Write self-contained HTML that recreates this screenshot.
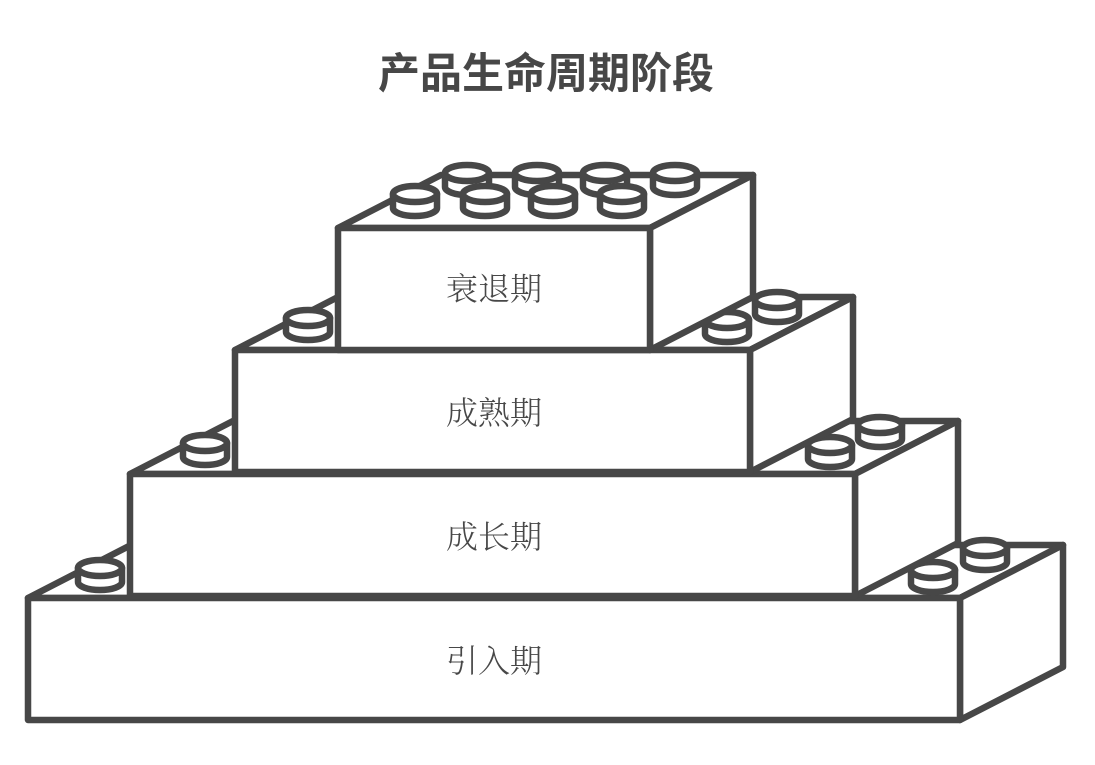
<!DOCTYPE html>
<html><head><meta charset="utf-8"><style>
body{margin:0;background:#fff;}
svg{display:block}
text{font-family:"Liberation Serif","Noto Serif CJK SC",serif;fill:#474747}
</style></head><body>
<svg width="1095" height="765" viewBox="0 0 1095 765" xmlns="http://www.w3.org/2000/svg">
<text x="546" y="88" font-size="42" font-weight="bold" text-anchor="middle" style="font-family:'Liberation Sans','Noto Sans CJK SC',sans-serif">产品生命周期阶段</text>
<g stroke="#474747" stroke-width="6.5" stroke-linejoin="round" stroke-linecap="round" fill="#fff" id="g"></g>
</svg>
<script>
const g=document.getElementById('g');
const NS='http://www.w3.org/2000/svg';
function el(t,a){const e=document.createElementNS(NS,t);for(const k in a)e.setAttribute(k,a[k]);g.appendChild(e);return e;}
const dx=103,dy=-53,h=122;
function brick(x,y,w){
 el('polygon',{points:`${x},${y} ${x+w},${y} ${x+w+dx},${y+dy} ${x+dx},${y+dy}`});
 el('polygon',{points:`${x+w},${y} ${x+w+dx},${y+dy} ${x+w+dx},${y+dy+h} ${x+w},${y+h}`});
 el('rect',{x:x,y:y,width:w,height:h});
}
function stud(cx,cy){
 const rx=22,ry=8,sh=14;
 el('path',{d:`M${cx-rx},${cy} L${cx-rx},${cy+sh} A${rx},${ry} 0 0 0 ${cx+rx},${cy+sh} L${cx+rx},${cy} Z`});
 el('ellipse',{cx:cx,cy:cy,rx:rx,ry:ry});
}
function label(t,x,y){const e=document.createElementNS(NS,'text');e.setAttribute('x',x);e.setAttribute('y',y);e.setAttribute('font-size','32');e.setAttribute('font-weight','300');e.setAttribute('text-anchor','middle');e.setAttribute('stroke','none');e.textContent=t;document.querySelector('svg').appendChild(e);}
brick(28,598,932);
stud(100,568);stud(985,548);stud(933,570);
brick(130,474,725);
stud(205,443);stud(880,425);stud(830,445);
brick(235,350,515);
stud(308,318);stud(777,300);stud(727,320);
brick(338,228,312);
[467,537,605,675].forEach(x=>stud(x,173));
[415,485,553,622].forEach(x=>stud(x,194));
label('衰退期',494,300);
label('成熟期',494,424);
label('成长期',494,548);
label('引入期',494,672);
</script>
</body></html>
